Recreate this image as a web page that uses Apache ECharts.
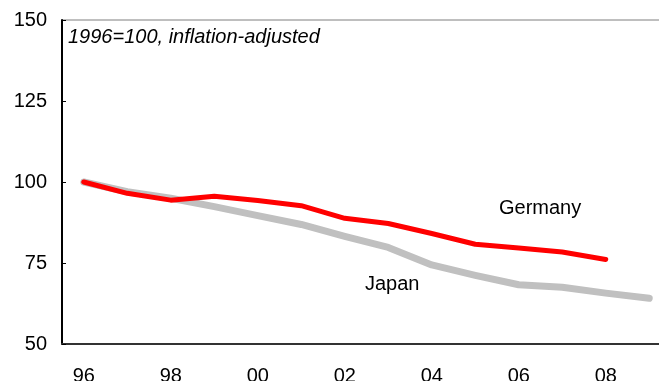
<!DOCTYPE html>
<html>
<head>
<meta charset="utf-8">
<script src="https://cdn.jsdelivr.net/npm/echarts@6/dist/echarts.min.js"></script>
<style>
html,body{margin:0;padding:0;background:#fff;}
#c{width:659px;height:381px;}
</style>
</head>
<body>
<div id="c"></div>
<script>
var years = ['96','97','98','99','00','01','02','03','04','05','06','07','08','09'];
var germany = [100, 96.5, 94.4, 95.6, 94.3, 92.7, 88.8, 87.2, 84.1, 80.8, 79.6, 78.4, 76.1, null];
var japan = [100, 97.0, 95.0, 92.4, 89.6, 86.9, 83.2, 79.8, 74.4, 71.2, 68.3, 67.5, 65.7, 64.1];
var yTicks = [50, 75, 100, 125, 150];
var noteText = '1996=100, inflation-adjusted';
var labelGermany = 'Germany';
var labelJapan = 'Japan';

var font = '"Liberation Sans", Arial, sans-serif';
var chart = echarts.init(document.getElementById('c'), null, {renderer: 'canvas'});
chart.setOption({
  animation: false,
  backgroundColor: '#fff',
  grid: {left: 62, top: 20, bottom: 37, right: -12, containLabel: false, outerBoundsMode: 'none',
         show: true, borderColor: '#7f7f7f', borderWidth: 1, backgroundColor: 'transparent'},
  xAxis: {
    type: 'category', data: years, boundaryGap: true,
    axisLine: {lineStyle: {color: '#333', width: 2}},
    axisTick: {inside: true, length: 5, interval: 0, lineStyle: {color: '#333', width: 1}},
    axisLabel: {interval: 1, color: '#000', fontSize: 20, fontFamily: font, margin: 22},
    splitLine: {show: false}
  },
  yAxis: {
    type: 'value', min: yTicks[0], max: yTicks[yTicks.length - 1], interval: 25,
    axisLine: {show: true, lineStyle: {color: '#000', width: 2}},
    axisTick: {show: true, inside: true, length: 4, lineStyle: {color: '#000', width: 1}},
    axisLabel: {color: '#000', fontSize: 20, fontFamily: font, margin: 15},
    splitLine: {show: false}
  },
  graphic: [
    {type: 'text', left: 68, top: 27, style: {text: noteText, font: 'italic 20px ' + font, fill: '#000'}},
    {type: 'text', left: 499, top: 198, style: {text: labelGermany, font: '20px ' + font, fill: '#000'}},
    {type: 'text', left: 365, top: 274, style: {text: labelJapan, font: '20px ' + font, fill: '#000'}}
  ],
  series: [
    {name: 'Japan', type: 'line', data: japan, showSymbol: false, symbol: 'none',
     lineStyle: {color: '#c0c0c0', width: 7, cap: 'round', join: 'round'}},
    {name: 'Germany', type: 'line', data: germany, showSymbol: false, symbol: 'none',
     lineStyle: {color: '#ff0000', width: 5, cap: 'round', join: 'round'}}
  ]
});
</script>
</body>
</html>
